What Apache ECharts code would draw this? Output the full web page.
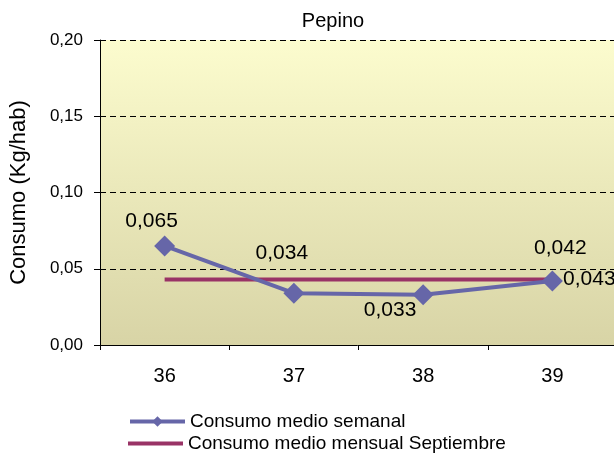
<!DOCTYPE html>
<html>
<head>
<meta charset="utf-8">
<script src="https://cdn.jsdelivr.net/npm/echarts@6/dist/echarts.min.js"></script>
<style>
  html, body {margin:0; padding:0; background:#fff;}
  #chart {width:614px; height:457px;}
</style>
</head>
<body>
<div id="chart"></div>
<script>
  // datos
  let semanas = ['36', '37', '38', '39']
  let consumoSemanal = [0.065, 0.034, 0.033, 0.042]
  let consumoMensual = [0.043, 0.043, 0.043, 0.043]
  let yTicks = [0, 0.05, 0.10, 0.15, 0.20]

  // desplazamiento de cada etiqueta respecto a su punto (solo estilo)
  let labelOffsets = [[-13, -25], [-12, -40], [-33, 16], [8, -33]]

  const fmt = v => v.toFixed(3).replace('.', ',')
  const font = 'Liberation Sans, Arial, sans-serif'
  const azul = '#6666a8'
  const granate = '#993366'

  var myChart = echarts.init(document.getElementById('chart'))

  var legendText = {fontFamily: font, fontSize: 19, color: '#000'}

  var option = {
    animation: false,
    title: {
      text: 'Pepino',
      left: 328,
      top: 6,
      textAlign: 'center',
      textStyle: {fontFamily: font, fontSize: 20, fontWeight: 'normal', color: '#000'}
    },
    grid: {
      left: 100, top: 40, right: -3, bottom: 112,
      outerBoundsMode: 'none',
      containLabel: false,
      show: true,
      borderWidth: 0,
      backgroundColor: new echarts.graphic.LinearGradient(0, 0, 0, 1, [
        {offset: 0, color: '#fcfcce'},
        {offset: 1, color: '#d8d4a6'}
      ])
    },
    legend: [
      {
        left: 128, top: 412,
        padding: 0,
        itemWidth: 55, itemHeight: 13, itemGap: 0,
        lineStyle: {width: 4},
        textStyle: legendText,
        data: ['Consumo medio semanal']
      },
      {
        left: 128, top: 434,
        padding: 0,
        itemWidth: 55, itemHeight: 4, itemGap: 0,
        textStyle: legendText,
        data: [{name: 'Consumo medio mensual Septiembre', icon: 'rect'}]
      }
    ],
    xAxis: {
      type: 'category',
      data: semanas,
      boundaryGap: true,
      axisLine: {lineStyle: {color: '#000', width: 1}},
      axisTick: {show: true, length: 5, lineStyle: {color: '#000'}},
      axisLabel: {fontFamily: font, fontSize: 20, color: '#000', margin: 21},
      splitLine: {show: false}
    },
    yAxis: {
      type: 'value',
      min: yTicks[0],
      max: yTicks[yTicks.length - 1],
      interval: 0.05,
      name: 'Consumo (Kg/hab)',
      nameLocation: 'middle',
      nameGap: 70,
      nameTextStyle: {fontFamily: font, fontSize: 22, color: '#000'},
      axisLine: {show: true, lineStyle: {color: '#000', width: 1}},
      axisTick: {show: true, length: 6, lineStyle: {color: '#000'}},
      axisLabel: {
        fontFamily: font, fontSize: 17, color: '#000', margin: 17,
        formatter: v => v.toFixed(2).replace('.', ',')
      },
      splitLine: {show: true, lineStyle: {color: '#000', type: [6, 4], width: 1}}
    },
    series: [
      {
        name: 'Consumo medio mensual Septiembre',
        type: 'line',
        data: consumoMensual.map((v, i) => ({
          value: v,
          label: {
            show: i === consumoMensual.length - 1,
            position: 'inside',
            offset: [37, 0],
            formatter: p => fmt(p.value),
            fontFamily: font, fontSize: 21, color: '#000'
          }
        })),
        symbol: 'circle',
        symbolSize: 0,
        showAllSymbol: true,
        lineStyle: {color: granate, width: 4},
        itemStyle: {color: granate},
        z: 2
      },
      {
        name: 'Consumo medio semanal',
        type: 'line',
        data: consumoSemanal.map((v, i) => ({
          value: v,
          label: {
            show: true,
            position: 'inside',
            offset: labelOffsets[i],
            formatter: p => fmt(p.value),
            fontFamily: font, fontSize: 21, color: '#000'
          }
        })),
        symbol: 'diamond',
        symbolSize: 21,
        lineStyle: {color: azul, width: 4},
        itemStyle: {color: azul},
        z: 3
      }
    ]
  }

  myChart.setOption(option)
</script>
</body>
</html>
